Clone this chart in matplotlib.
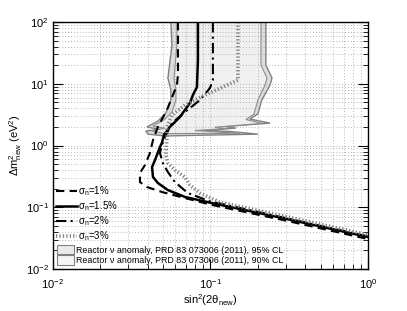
import numpy as np
import matplotlib
matplotlib.use('Agg')
from matplotlib import pyplot as plt
from matplotlib.patches import Polygon, Patch

plt.rcParams['font.family'] = ['Liberation Sans', 'DejaVu Sans']
plt.rcParams['mathtext.fontset'] = 'custom'
plt.rcParams['mathtext.rm'] = 'Liberation Sans'
plt.rcParams['mathtext.it'] = 'Liberation Sans'
plt.rcParams['mathtext.sf'] = 'Liberation Sans'

# sensitivity curves, sin^2(2theta) vs dm^2 (eV^2)
x_s1 = [0.0622, 0.0622, 0.0613, 0.0578, 0.0529, 0.0464, 0.0432, 0.0413, 0.0384, 0.0357,
        0.0357, 0.0395, 0.0492, 0.0689, 0.1023, 0.30, 1.0]
y_s1 = [100, 13.9, 9.55, 6.57, 3.76, 2.00, 1.23, 0.756, 0.483, 0.359,
        0.256, 0.213, 0.177, 0.141, 0.109, 0.061, 0.0306]

x_s15 = [0.0833, 0.0833, 0.0821, 0.0774, 0.0741, 0.0640, 0.0553, 0.0507, 0.0492, 0.0478,
         0.0445, 0.0426, 0.0432, 0.0464, 0.0537, 0.0689, 0.1023, 0.30, 1.0]
y_s15 = [100, 24.2, 8.86, 6.57, 4.88, 2.90, 2.00, 1.48, 1.10, 0.946,
         0.582, 0.449, 0.309, 0.247, 0.190, 0.147, 0.117, 0.0653, 0.033]

x_s2 = [0.1037, 0.1037, 0.0993, 0.0858, 0.0689, 0.0570, 0.0521, 0.0492, 0.0478, 0.0499,
        0.0537, 0.0595, 0.0719, 0.0993, 0.30, 1.0]
y_s2 = [100, 11.5, 8.54, 5.46, 3.49, 2.31, 1.48, 1.02, 0.756, 0.521,
        0.372, 0.256, 0.170, 0.125, 0.067, 0.0338]

x_s3 = [0.1496, 0.1496, 0.1236, 0.0923, 0.0689, 0.0570, 0.0529, 0.0529, 0.0521, 0.0537,
        0.0595, 0.0689, 0.0741, 0.0858, 0.1148, 0.30, 1.0]
y_s3 = [100, 11.5, 9.2, 6.57, 4.53, 3.12, 2.00, 1.23, 0.702, 0.521,
        0.401, 0.309, 0.229, 0.170, 0.121, 0.071, 0.0358]

# reactor anomaly allowed regions
x95 = [0.0561, 0.0570, 0.0537, 0.0561, 0.0561, 0.0521, 0.0464, 0.0395, 0.0478, 0.0389,
       0.0401, 0.0514, 0.200, 0.133, 0.0923, 0.1453, 0.1236, 0.239, 0.178, 0.200,
       0.212, 0.239, 0.246, 0.225, 0.225]
y95 = [100, 42.4, 12.4, 7.92, 5.46, 3.36, 2.49, 2.00, 1.82, 1.72,
       1.53, 1.43, 1.53, 1.69, 1.75, 1.92, 2.03, 2.31, 2.69, 3.24,
       5.46, 9.55, 12.4, 20.1, 100]

x90 = [0.0613, 0.0613, 0.0587, 0.0604, 0.0604, 0.0570, 0.0507, 0.0432, 0.0514, 0.0426,
       0.0514, 0.1538, 0.1069, 0.0798, 0.1236, 0.1069, 0.212, 0.168, 0.189, 0.200,
       0.222, 0.2287, 0.2095, 0.2095]
y90 = [100, 42.4, 12.4, 7.92, 5.46, 3.49, 2.59, 2.07, 1.92, 1.72,
       1.56, 1.58, 1.67, 1.75, 1.88, 1.98, 2.29, 2.64, 3.24, 5.46,
       9.55, 12.4, 20.1, 100]

labels = ['$\\mathregular{\\sigma_{n}}$=1%', '$\\mathregular{\\sigma_{n}}$=1.5%',
          '$\\mathregular{\\sigma_{n}}$=2%', '$\\mathregular{\\sigma_{n}}$=3%']
lab95 = 'Reactor \u03bd anomaly, PRD 83 073006 (2011), 95% CL'
lab90 = 'Reactor \u03bd anomaly, PRD 83 073006 (2011), 90% CL'

fig = plt.figure(figsize=(4.07, 3.11), dpi=100)
ax = fig.add_axes([0.130, 0.135, 0.774, 0.794])
ax.set_xscale('log')
ax.set_yscale('log')
ax.set_xlim(1e-2, 1)
ax.set_ylim(1e-2, 1e2)

c95, c90 = '#dedede', '#f0f0f0'
ax.add_patch(Polygon(np.column_stack([x95, y95]), closed=True, fc=c95, ec='#808080', lw=1.0, zorder=1))
ax.add_patch(Polygon(np.column_stack([x90, y90]), closed=True, fc=c90, ec='#8c8c8c', lw=0.8, zorder=1))

ax.grid(True, which='both', color='#a0a0a0', ls=(0, (1, 2.5)), lw=0.6)

l1, = ax.plot(x_s1, y_s1, color='k', lw=1.5, ls=(0, (4, 2.5)))
l2, = ax.plot(x_s15, y_s15, color='k', lw=1.8, ls='-')
l3, = ax.plot(x_s2, y_s2, color='k', lw=1.5, ls=(0, (5, 2, 1, 2)))
l4, = ax.plot(x_s3, y_s3, color='#808080', lw=2.6, ls=(0, (0.35, 0.6)))

ax.tick_params(which='both', direction='in', right=True, top=False, labelsize=8, colors='k')
ax.tick_params(which='major', length=7, width=0.8)
ax.tick_params(which='minor', length=3.5, width=0.6)
ax.tick_params(axis='x', pad=6)
ax.tick_params(axis='y', pad=3)
ax.set_xticks([1e-2, 1e-1, 1])
ax.set_xticklabels(['$\\mathregular{10^{-2}}$', '$\\mathregular{10^{-1}}$', '$\\mathregular{10^{0}}$'])
ax.set_yticks([1e-2, 1e-1, 1, 10, 100])
ax.set_yticklabels(['$\\mathregular{10^{-2}}$', '$\\mathregular{10^{-1}}$', '$\\mathregular{10^{0}}$',
                    '$\\mathregular{10^{1}}$', '$\\mathregular{10^{2}}$'])
for s in ax.spines.values():
    s.set_linewidth(1.0)

ax.set_xlabel('$\\mathregular{sin^{2}(2\\theta_{new})}$', fontsize=8, labelpad=1)
ax.set_ylabel('$\\mathregular{\\Delta m^{2}_{new}}$ (eV$\\mathregular{^{2}}$)', fontsize=8, labelpad=1)

leg1 = ax.legend([l1, l2, l3, l4], labels, loc='upper left', bbox_to_anchor=(0.005, 0.35),
                 frameon=False, fontsize=7, handlelength=2.1, handletextpad=0.15,
                 labelspacing=0.12, borderpad=0.2, borderaxespad=0)
ax.add_artist(leg1)
p95 = Patch(fc='#ebebeb', ec='#808080', lw=0.8)
p90 = Patch(fc='#f5f5f5', ec='#808080', lw=0.8)
ax.legend([p95, p90], [lab95, lab90], loc='upper left', bbox_to_anchor=(0.01, 0.102),
          frameon=False, fontsize=6.4, handlelength=1.9, handleheight=1.3, handletextpad=0.2,
          labelspacing=0.05, borderpad=0.1, borderaxespad=0)

plt.savefig('out.png', dpi=100)
